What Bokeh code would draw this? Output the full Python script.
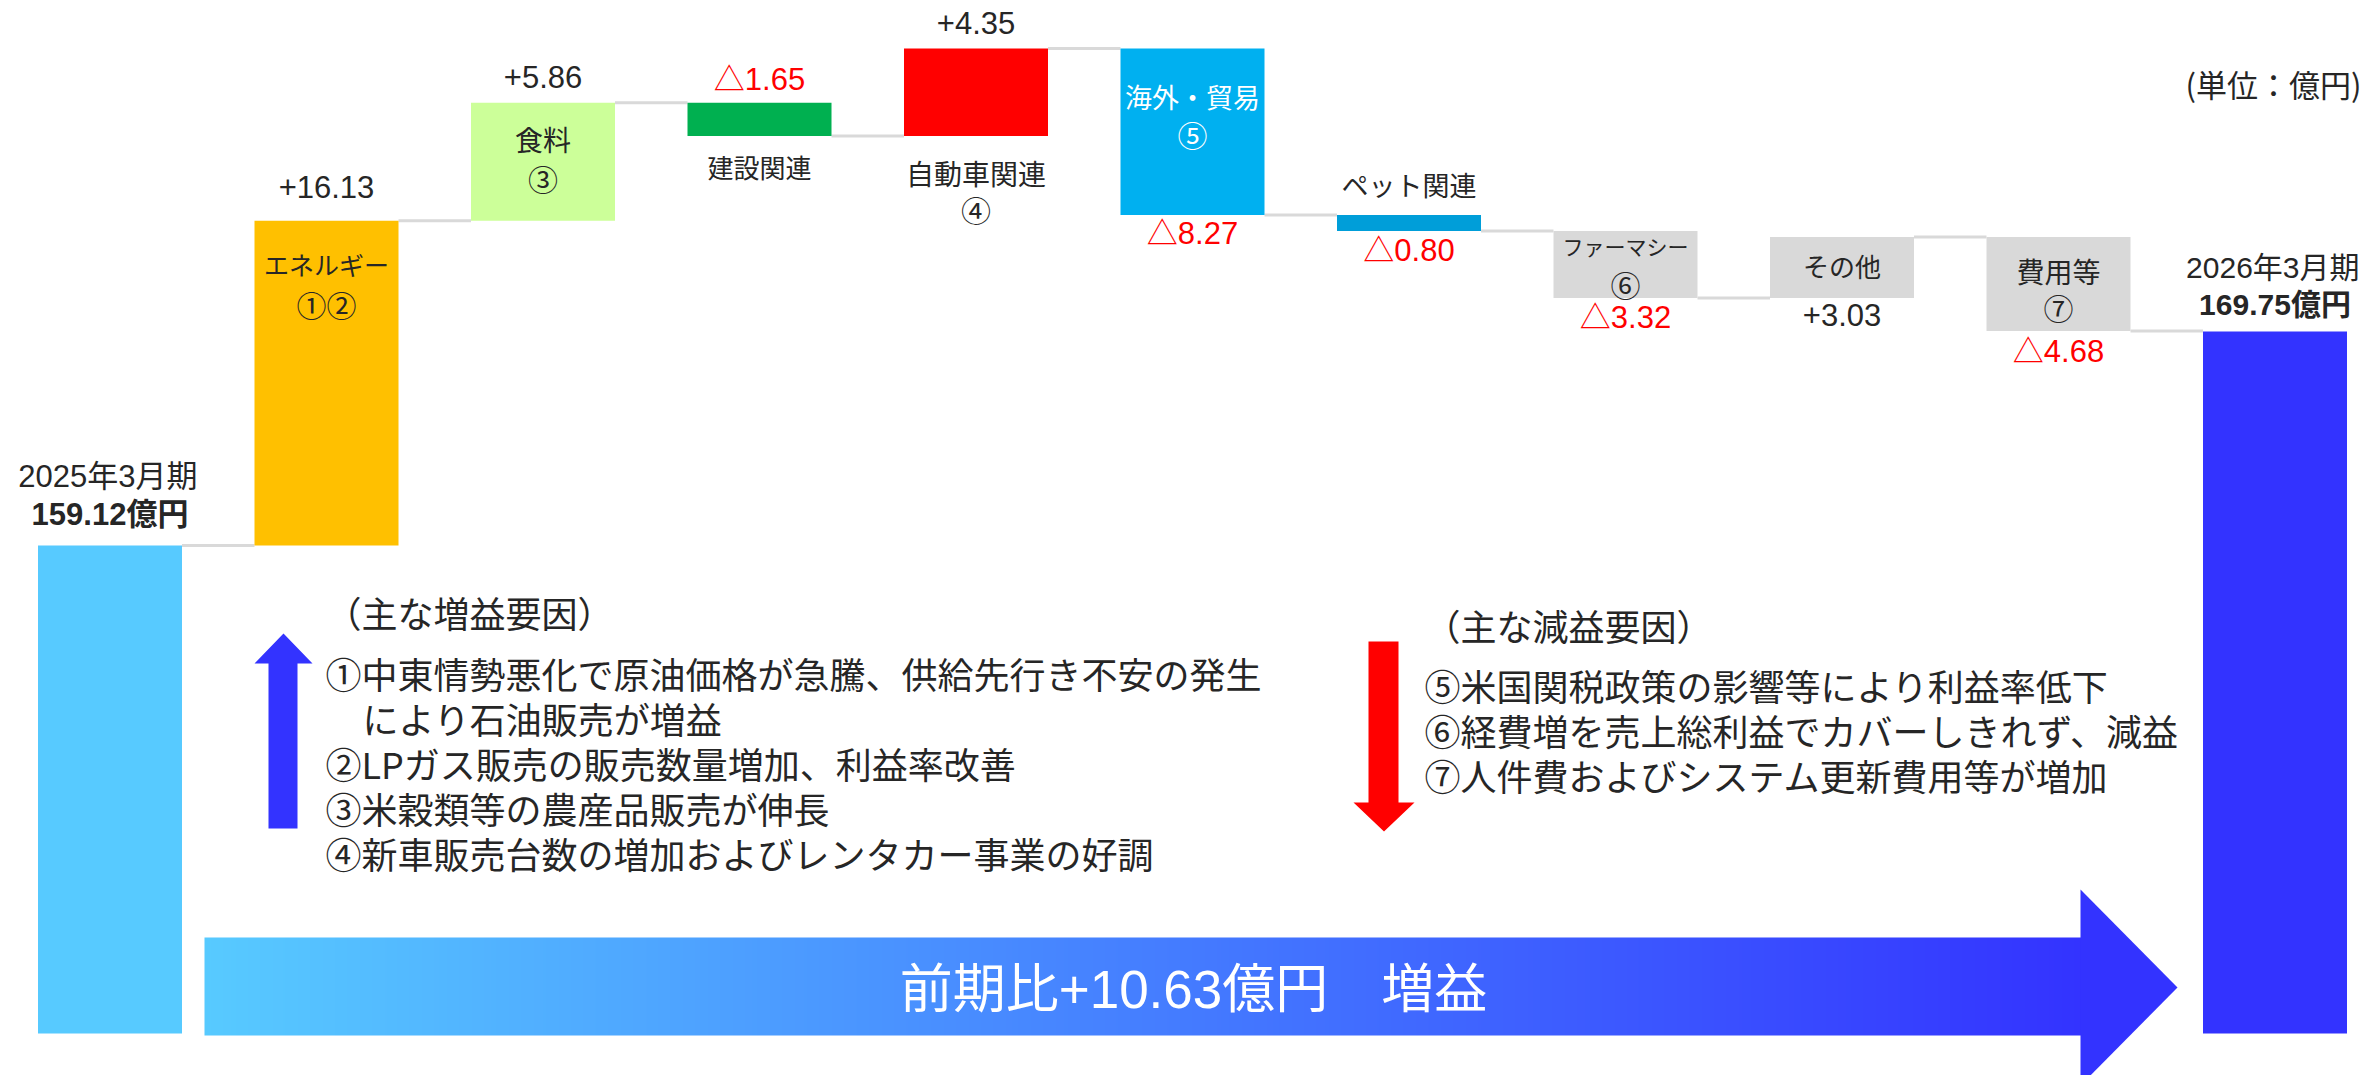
import numpy as np
from bokeh.plotting import figure
from bokeh.models import Range1d
from bokeh.core.properties import value
from bokeh.embed import file_html
from bokeh.resources import INLINE

# ---------------- data ----------------
categories = ["2025年3月期", "エネルギー", "食料", "建設関連", "自動車関連", "海外・貿易",
              "ペット関連", "ファーマシー", "その他", "費用等", "2026年3月期"]
markers = ["", "①②", "③", "", "④", "⑤", "", "⑥", "", "⑦", ""]
start_value = 159.12
end_value = 169.75
deltas = [16.13, 5.86, -1.65, 4.35, -8.27, -0.80, -3.32, 3.03, -4.68]
total_change = 10.63
unit_label = "(単位：億円)"
increase_title = "（主な増益要因）"
increase_items = ["①中東情勢悪化で原油価格が急騰、供給先行き不安の発生",
                  "により石油販売が増益",
                  "②LPガス販売の販売数量増加、利益率改善",
                  "③米穀類等の農産品販売が伸長",
                  "④新車販売台数の増加およびレンタカー事業の好調"]
decrease_title = "（主な減益要因）"
decrease_items = ["⑤米国関税政策の影響等により利益率低下",
                  "⑥経費増を売上総利益でカバーしきれず、減益",
                  "⑦人件費およびシステム更新費用等が増加"]

# ---------------- styles / layout ----------------
bar_colors = ["#57CAFF", "#FFC000", "#CCFF99", "#00B050", "#FF0000", "#00B0F0",
              "#009ED9", "#D9D9D9", "#D9D9D9", "#D9D9D9", "#3333FF"]
TXT = "#262626"
RED = "#FF0000"
NUM_FONT = value("'Liberation Sans', 'Noto Sans CJK JP'")
JP_FONT = value("Noto Sans CJK JP")

W, H = 2363, 1075
M = 0
X0, DX = 109.5, 216.5          # pixel centre of first bar, spacing
Y0, K = 545.0, 20.13           # pixel of start value, px per unit
BAR_W = 144 / DX


def px2x(px):
    return (px - X0) / DX


def py2y(py):
    return start_value + (Y0 - py) / K


def dpy(n):
    return n / K


base = py2y(1033)

levels = [start_value]
for d in deltas:
    levels.append(levels[-1] + d)

n = len(categories)
xs = list(range(n))
bottoms, tops = [], []
for i in range(n):
    if i == 0:
        bottoms.append(base); tops.append(start_value)
    elif i == n - 1:
        bottoms.append(base); tops.append(end_value)
    else:
        lo, hi = sorted([levels[i - 1], levels[i]])
        bottoms.append(lo); tops.append(hi)

p = figure(width=W, height=H, output_backend="svg", toolbar_location=None,
           x_range=Range1d(px2x(M), px2x(M + W)),
           y_range=Range1d(py2y(M + H), py2y(M)),
           min_border=0)
p.axis.visible = False
p.grid.visible = False
p.outline_line_color = None
p.background_fill_color = "white"
p.border_fill_color = "white"

# connectors
cx0, cx1, cy = [], [], []
for i in range(n - 1):
    cx0.append(xs[i] + BAR_W / 2)
    cx1.append(xs[i + 1] - BAR_W / 2)
    cy.append(levels[i])
p.segment(x0=cx0, y0=cy, x1=cx1, y1=cy, line_color="#D9D9D9", line_width=3)

# bars
p.vbar(x=xs, width=BAR_W, bottom=bottoms, top=tops, fill_color=bar_colors,
       line_color=None)


def txt(x, y, s, size, font=NUM_FONT, color=TXT, align="center", style="normal"):
    p.text(x=[x], y=[y], text=[s], text_font=font, text_font_size=value(f"{size}px"),
           text_color=color, text_align=align, text_baseline="middle",
           text_font_style=style)


# value labels (side, px offset from bar edge)
val_layout = [None, ("top", 34), ("top", 26), ("top", 23), ("top", 25),
              ("bottom", 19), ("bottom", 19), ("bottom", 20), ("bottom", 17),
              ("bottom", 20), None]
for i in range(1, n - 1):
    d = deltas[i - 1]
    s = f"+{d:.2f}" if d > 0 else f"△{abs(d):.2f}"
    side, off = val_layout[i]
    y = tops[i] + dpy(off) if side == "top" else bottoms[i] - dpy(off)
    txt(xs[i], y, s, 31, color=TXT if d > 0 else RED)

# category labels: (anchor, offset of name, offset of marker, size)
cat_layout = [None,
              ("in", 43, 83, 25), ("in", 36, 75, 28), ("below", 30, None, 26),
              ("below", 37, 73, 28), ("in", 48, 86, 27), ("above", 30, None, 27),
              ("in", 15, 53, 21), ("in", 29, None, 26), ("in", 34, 70, 28), None]
for i in range(1, n - 1):
    anchor, o1, o2, sz = cat_layout[i]
    col = "white" if i == 5 else TXT
    if anchor == "in":
        y1 = tops[i] - dpy(o1)
        y2 = tops[i] - dpy(o2) if o2 else None
    elif anchor == "below":
        y1 = bottoms[i] - dpy(o1)
        y2 = bottoms[i] - dpy(o2) if o2 else None
    else:
        y1 = tops[i] + dpy(o1)
        y2 = None
    txt(xs[i], y1, categories[i], sz, font=JP_FONT, color=col)
    if y2 is not None and markers[i]:
        txt(xs[i], y2, markers[i], 30, font=JP_FONT, color=col)

# start / end totals
txt(xs[0] - 0.01, tops[0] + dpy(69), categories[0], 31)
txt(xs[0], tops[0] + dpy(31), f"{start_value:.2f}億円", 31, style="bold")
txt(xs[-1] - 0.01, tops[-1] + dpy(64), categories[-1], 30)
txt(xs[-1], tops[-1] + dpy(27), f"{end_value:.2f}億円", 30, style="bold")

# unit
txt(px2x(2361), py2y(83), unit_label, 31, font=JP_FONT, align="right")

# factor blocks
txt(px2x(325), py2y(611), increase_title, 36, font=JP_FONT, align="left")
inc_y = [672, 717, 762, 807, 852]
for k_, s in enumerate(increase_items):
    xx = 325 if k_ != 1 else 362
    txt(px2x(xx), py2y(inc_y[k_]), s, 36, font=JP_FONT, align="left")

txt(px2x(1424), py2y(624), decrease_title, 36, font=JP_FONT, align="left")
dec_y = [684, 729, 774]
for k_, s in enumerate(decrease_items):
    txt(px2x(1424), py2y(dec_y[k_]), s, 36, font=JP_FONT, align="left")

# small arrows
up = [(268, 828), (297, 828), (297, 663), (312, 663), (283, 633), (254, 663), (268, 663)]
p.patch(x=[px2x(a) for a, b in up], y=[py2y(b) for a, b in up],
        fill_color="#3333FF", line_color=None)
dn = [(1368, 641), (1398, 641), (1398, 802), (1414, 802), (1383.5, 831), (1353, 802), (1368, 802)]
p.patch(x=[px2x(a) for a, b in dn], y=[py2y(b) for a, b in dn],
        fill_color="#FF0000", line_color=None)

# big gradient arrow
bx0, bx1 = 204, 2081
N = bx1 - bx0
img = np.empty((1, N), dtype=np.uint32)
view = img.view(dtype=np.uint8).reshape((1, N, 4))
t = np.linspace(0, 1, N)
c0 = np.array([0x57, 0xCA, 0xFF])
c1 = np.array([0x33, 0x33, 0xFF])
for ch in range(3):
    view[0, :, ch] = np.round(c0[ch] + (c1[ch] - c0[ch]) * t).astype(np.uint8)
view[0, :, 3] = 255
p.image_rgba(image=[img], x=px2x(bx0), y=py2y(1035), dw=px2x(bx1) - px2x(bx0),
             dh=dpy(98))
head = [(2080, 889), (2177, 987), (2080, 1085)]
p.patch(x=[px2x(a) for a, b in head], y=[py2y(b) for a, b in head],
        fill_color="#3333FF", line_color=None)
txt(px2x(1193), py2y(989), f"前期比+{total_change:.2f}億円　増益", 53, color="white")

open("out.html", "w").write(file_html(p, INLINE))
